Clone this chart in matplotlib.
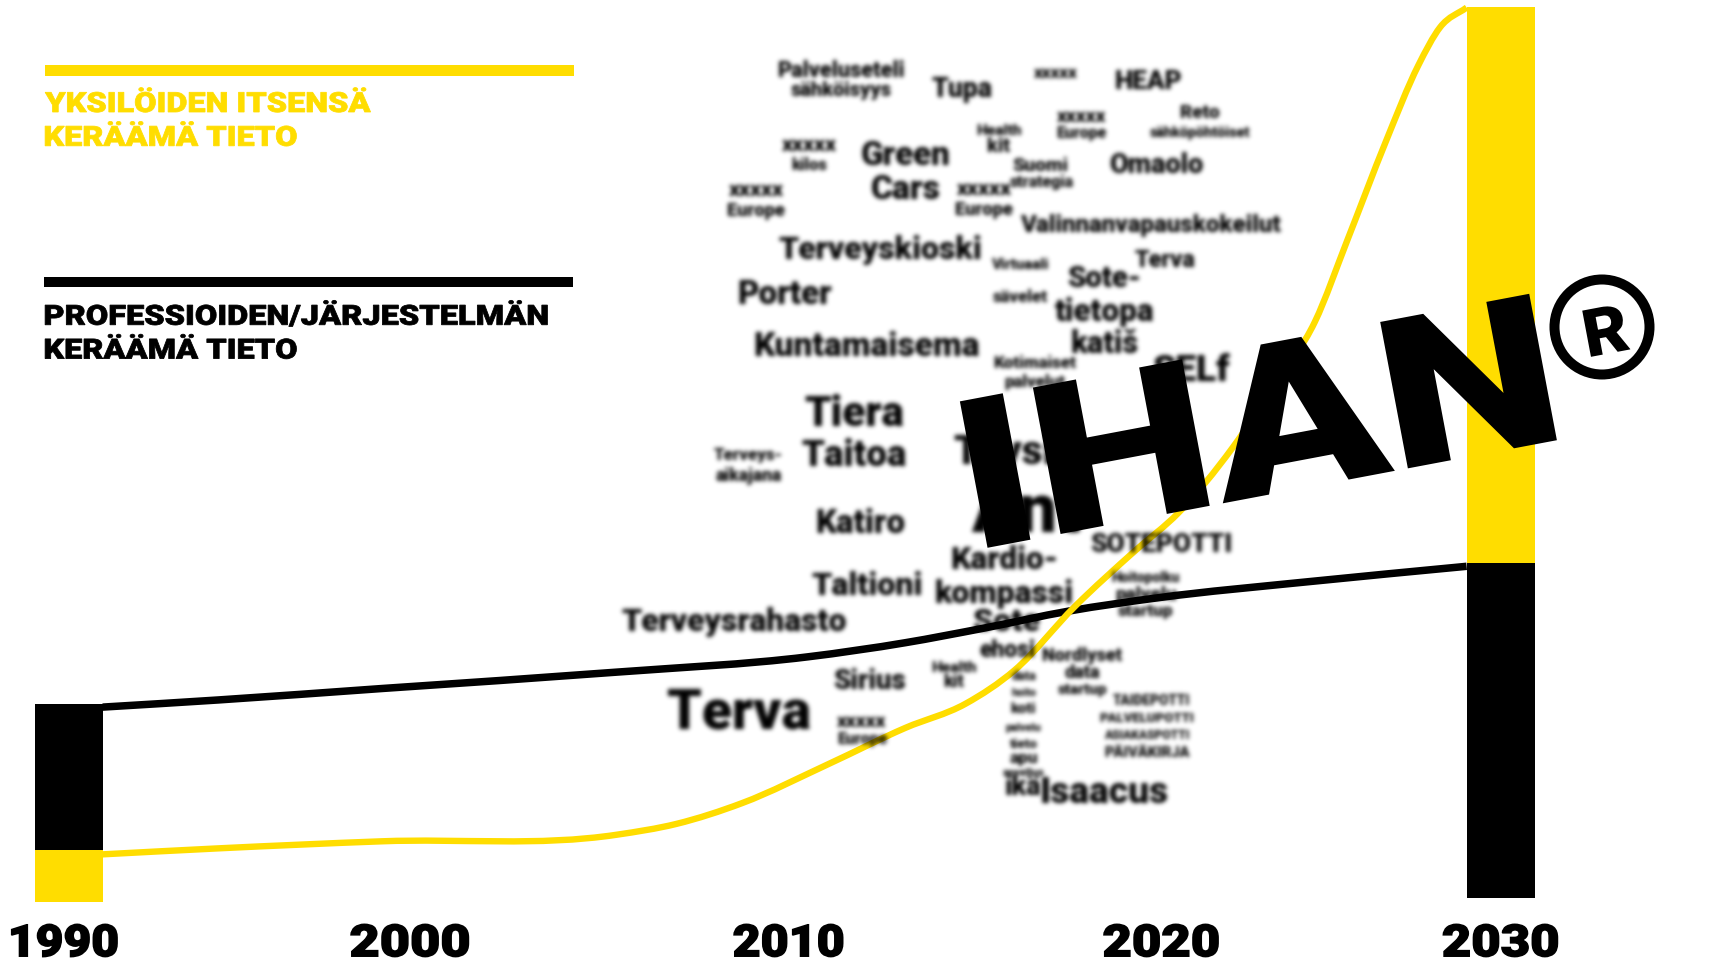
import numpy as np
import matplotlib
matplotlib.use("Agg")
import matplotlib.pyplot as plt
from matplotlib.path import Path
from matplotlib.patches import PathPatch, Circle, Rectangle
from matplotlib.patheffects import AbstractPathEffect
from matplotlib.textpath import TextPath
from matplotlib.font_manager import FontProperties
from matplotlib.transforms import Affine2D

YELLOW = "#FFDD00"
BLACK = "#000000"
S = 1711 / 1568  # reference reading scale

# --- data -------------------------------------------------------------
bar_years = [1990, 2030]
black_base = [5.8, 0.5]
black_vals = [16.4, 37.4]
yellow_base = [0.0, 37.9]
yellow_vals = [5.8, 62.2]

black_x = [1990.94, 1994.17, 1998.74, 2005.29, 2010.63, 2013.37, 2015.50, 2017.94, 2020.38, 2024.65, 2029.04]
black_y = [21.80, 22.60, 23.88, 25.71, 27.42, 29.01, 30.59, 32.55, 34.01, 35.84, 37.55]

yellow_x = [1990.94, 1994.17, 1998.74, 2005.29, 2006.97, 2008.80, 2011.23, 2013.37, 2015.04, 2016.42,
            2018.09, 2019.77, 2020.99, 2022.51, 2023.73, 2024.80, 2025.71, 2026.78, 2027.69, 2028.30, 2029.04]
yellow_y = [5.33, 6.00, 6.79, 7.52, 8.74, 11.06, 15.46, 19.49, 22.17, 25.95,
            33.03, 39.26, 43.53, 50.86, 58.18, 64.89, 74.05, 85.03, 93.58, 97.85, 100.05]

tick_labels = ["1990", "2000", "2010", "2020", "2030"]
tick_left = [10, 321, 672, 1011, 1322]
tick_width = [98, 109, 101, 106, 106]

words = ["Palveluseteli", "sähköisyys", "Tupa", "xxxxx", "HEAP", "Health", "kit", "xxxxx", "Europe", "Reto",
         "sähköpöhtöiset", "xxxxx", "kilos", "Green", "Cars", "Suomi", "strategia", "Omaolo", "xxxxx", "Europe",
         "xxxxx", "Europe", "Valinnanvapauskokeilut", "Terveyskioski", "Virtuaali", "Terva", "Sote-", "Porter",
         "sävelet", "tietopa", "katiš", "Kuntamaisema", "Kotimaiset", "palvelut", "SELf", "Tiera", "Taitoa",
         "Terveys-", "aikajana", "Täysi", "Ant", "Katiro", "SOTEPOTTI", "Kardio-", "kompassi", "Taltioni",
         "Hoitopolku", "palvelu", "startup", "Terveysrahasto", "Sote", "ehosi", "Nordlyset", "data", "startup",
         "Health", "kit", "Sirius", "Terva", "xxxxx", "Europe", "TAIDEPOTTI", "PALVELUPOTTI", "ASIAKASPOTTI",
         "PÄIVÄKIRJA", "Isaacus", "data", "hoito", "koti", "palvelu", "tieto", "apu", "sovellus", "ikä"]
word_x = [771, 771, 882, 968, 1052, 915, 915, 991, 991, 1100,
          1100, 742, 742, 830, 830, 953, 955, 1060, 693, 693,
          902, 902, 1054, 807, 935, 1068, 1012, 719,
          935, 1012, 1012, 794, 948, 948, 1092, 783, 783,
          686, 686, 920, 940, 788, 1064, 920, 920, 795,
          1050, 1050, 1050, 673, 922, 923, 992, 992, 992,
          874, 874, 797, 677, 790, 790, 1055, 1051, 1051,
          1051, 1012, 938, 938, 938, 938, 938, 938, 938, 938]
word_y = [65, 83, 82, 67, 75, 120, 134, 107, 122, 104,
          122, 133, 151, 143, 174, 152, 167, 152, 175, 193,
          174, 192, 207, 229, 243, 239, 256, 270,
          272, 286, 315, 318, 333, 350, 340, 380, 418,
          417, 436, 415, 470, 480, 499, 513, 544, 537,
          530, 545, 560, 570, 570, 596, 601, 617, 632,
          612, 625, 625, 653, 662, 677, 642, 658, 674,
          690, 727, 620, 635, 650, 667, 682, 695, 708, 722]
word_w = [115, 92, 55, 40, 60, 40, 20, 45, 45, 35,
          92, 50, 32, 80, 62, 50, 58, 85, 50, 52,
          50, 52, 240, 185, 52, 55, 65, 85,
          50, 90, 60, 205, 75, 55, 70, 90, 95,
          62, 60, 90, 100, 80, 128, 95, 125, 100,
          62, 55, 50, 205, 60, 50, 72, 32, 45,
          40, 18, 65, 130, 45, 45, 70, 85, 78,
          78, 115, 22, 22, 22, 32, 25, 25, 38, 32]

# --- figure -----------------------------------------------------------
fig = plt.figure(figsize=(17.11, 9.59), dpi=100, facecolor="white")
ax = fig.add_axes([0, 0, 1, 1])
ax.axis("off")
ax.set_xlim(1990 - 69 / 35.8, 1990 + (1711 - 69) / 35.8)
ax.set_ylim(-(959 - 902) / 8.94, 902 / 8.94)
px = Affine2D().scale(1 / 1711, -1 / 959).translate(0, 1) + fig.transFigure

FONT = FontProperties(family="Roboto", weight="black")


class Heavy(AbstractPathEffect):
    """Draw a text path widened by sx and fattened by a stroke of lw pixels."""
    def __init__(self, sx=1.0, lw=0.0):
        self.sx, self.lw = sx, lw

    def draw_path(self, renderer, gc, tpath, affine, rgbFace):
        g = renderer.new_gc()
        g.copy_properties(gc)
        g.set_linewidth(self.lw * 72 / 100)
        g.set_foreground(rgbFace)
        g.set_joinstyle("miter")
        renderer.draw_path(g, tpath, Affine2D().scale(self.sx, 1) + affine, rgbFace)
        g.restore()


def blur(sigma):
    r = int(3 * sigma)
    k = np.exp(-0.5 * (np.arange(-r, r + 1) / sigma) ** 2)
    k /= k.sum()

    def f(img, dpi):
        a = np.pad(img[..., 3], r + 1)
        a = np.array([np.convolve(row, k, "same") for row in a])
        a = np.array([np.convolve(col, k, "same") for col in a.T]).T
        out = np.zeros(a.shape + (4,))
        out[..., 3] = a
        return out, -(r + 1), -(r + 1)
    return f


def fitted(s, left, base, width, cap, color=BLACK, lw=0.0, angle=0, z=5):
    ext = TextPath((0, 0), s, size=100, prop=FONT).get_extents()
    capp = TextPath((0, 0), "H", size=100, prop=FONT).get_extents().height
    size_px = (cap - lw) / capp * 100
    sx = (width - lw) / (ext.width / 100 * size_px)
    a = np.deg2rad(angle)
    off = ext.x0 / 100 * size_px * sx - lw / 2
    x0 = left - off * np.cos(a)
    y0 = base + off * np.sin(a) - lw / 2
    t = fig.text(x0, y0, s, transform=px, fontproperties=FONT, fontsize=size_px * 72 / 100,
                 color=color, ha="left", va="baseline", rotation=angle,
                 rotation_mode="anchor", zorder=z)
    t.set_path_effects([Heavy(sx, lw)])
    return t


def smooth(x, y):
    x, y = np.asarray(x), np.asarray(y)
    m = np.gradient(y, x)
    verts = [(x[0], y[0])]
    codes = [Path.MOVETO]
    for i in range(len(x) - 1):
        h = (x[i + 1] - x[i]) / 3
        verts += [(x[i] + h, y[i] + m[i] * h), (x[i + 1] - h, y[i + 1] - m[i + 1] * h), (x[i + 1], y[i + 1])]
        codes += [Path.CURVE4] * 3
    return Path(verts, codes)


# blurred word cloud
for w, xs, ys, ws in zip(words, word_x, word_y, word_w):
    ext = TextPath((0, 0), w, size=100, prop=FONT).get_extents()
    size = ws * S / (ext.width / 100) * 72 / 100
    t = fig.text(xs * S, ys * S, w, transform=px, fontproperties=FONT, fontsize=size,
                 color=BLACK, ha="center", va="center", zorder=1)
    t.set_agg_filter(blur(2.2))

# stacked bars
ax.bar(bar_years, black_vals, bottom=black_base, width=68 / 35.8, color=BLACK, linewidth=0, zorder=3)
ax.bar(bar_years, yellow_vals, bottom=yellow_base, width=68 / 35.8, color=YELLOW, linewidth=0, zorder=3)

# lines
ax.add_patch(PathPatch(smooth(black_x, black_y), fc="none", ec=BLACK, lw=5.4, capstyle="butt", zorder=2))
ax.add_patch(PathPatch(smooth(yellow_x, yellow_y), fc="none", ec=YELLOW, lw=4.6, capstyle="butt", zorder=2.5))

# legend rules and captions
fig.add_artist(Rectangle((45, 65), 529, 11, transform=px, fc=YELLOW, ec="none"))
fig.add_artist(Rectangle((44, 277), 529, 10, transform=px, fc=BLACK, ec="none"))
fitted("YKSILÖIDEN ITSENSÄ", 41 * S, 103 * S, 299 * S, 20.5, YELLOW, lw=0.8)
fitted("KERÄÄMÄ TIETO", 41 * S, 134 * S, 231 * S, 20.5, YELLOW, lw=0.8)
fitted("PROFESSIOIDEN/JÄRJESTELMÄN", 41 * S, 298 * S, 461 * S, 20.5, BLACK, lw=0.8)
fitted("KERÄÄMÄ TIETO", 41 * S, 329 * S, 231 * S, 20.5, BLACK, lw=0.8)

# year labels
for lab, l, w in zip(tick_labels, tick_left, tick_width):
    fitted(lab, l * S, 877 * S, w * S, 33, BLACK, lw=1.5)

# rotated logotype
fitted("IHAN", 905 * S, 502 * S, 531 * S, 149, BLACK, lw=0, angle=10.7, z=8)
fig.add_artist(Circle((1602, 327), 47.5, transform=px, fc="none", ec=BLACK, lw=7.2, zorder=8))
fitted("R", 1458 * S, 327 * S, 40, 47, BLACK, lw=0, angle=10.7, z=8)

fig.savefig("out.png", dpi=100, facecolor="white")
